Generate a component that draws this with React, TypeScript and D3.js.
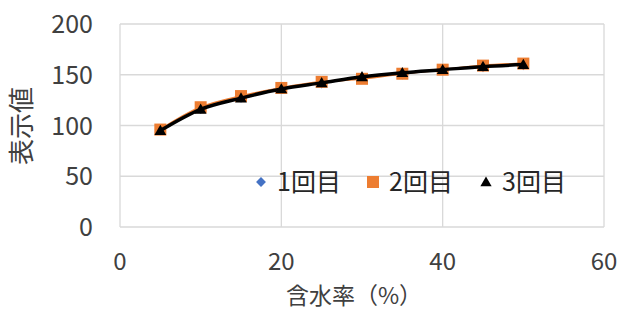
import React, { useEffect, useRef } from "react";
import * as d3 from "d3";

const moisture = [5, 10, 15, 20, 25, 30, 35, 40, 45, 50];
const run1 = [96, 117, 128, 137, 142, 147, 151, 155, 158, 160];
const run2 = [96, 118, 129, 137, 143, 146, 151, 155, 159, 161];
const run3 = [95, 116, 127, 136, 142, 148, 152, 155, 158, 160];
const xTicks = [0, 20, 40, 60];
const yTicks = [0, 50, 100, 150, 200];
const seriesNames = ["1回目", "2回目", "3回目"];

const FONT = "'Noto Sans CJK JP', 'Noto Sans', sans-serif";

function App() {
  const svgRef = useRef<SVGSVGElement>(null);

  useEffect(() => {
    const W = 623, H = 320;
    const m = { left: 120, right: 19, top: 24, bottom: 93 };

    const svg = d3.select(svgRef.current);
    svg.selectAll("*").remove();
    svg.attr("width", W).attr("height", H);

    const scX = d3.scaleLinear().domain([0, 60]).range([m.left, W - m.right]);
    const scY = d3.scaleLinear().domain([0, 200]).range([H - m.bottom, m.top]);

    // grid
    svg.append("g").selectAll("line").data(yTicks).enter().append("line")
      .attr("x1", scX(0)).attr("x2", scX(60))
      .attr("y1", d => scY(d)).attr("y2", d => scY(d))
      .attr("stroke", "#d9d9d9").attr("stroke-width", 1.3);
    svg.append("g").selectAll("line").data(xTicks).enter().append("line")
      .attr("y1", scY(0)).attr("y2", scY(200))
      .attr("x1", d => scX(d)).attr("x2", d => scX(d))
      .attr("stroke", "#d9d9d9").attr("stroke-width", 1.3);

    // tick labels
    svg.append("g").selectAll("text").data(yTicks).enter().append("text")
      .attr("x", scX(0) - 27).attr("y", d => scY(d))
      .attr("dy", "0.36em").attr("text-anchor", "end")
      .attr("font-family", FONT).attr("font-size", 25).attr("fill", "#404040")
      .text(d => d);
    svg.append("g").selectAll("text").data(xTicks).enter().append("text")
      .attr("x", d => scX(d)).attr("y", 270)
      .attr("text-anchor", "middle")
      .attr("font-family", FONT).attr("font-size", 24).attr("fill", "#404040")
      .text(d => d);

    // axis titles
    svg.append("text")
      .attr("x", 354).attr("y", 304).attr("text-anchor", "middle")
      .attr("font-family", FONT).attr("font-size", 23).attr("fill", "#404040")
      .text("含水率（%）");
    svg.append("text")
      .attr("transform", `translate(31,126) rotate(-90)`)
      .attr("text-anchor", "middle")
      .attr("font-family", FONT).attr("font-size", 26).attr("fill", "#404040")
      .text("表示値");

    const line = d3.line<number>()
      .x((_, i) => scX(moisture[i]))
      .y(d => scY(d))
      .curve(d3.curveCatmullRom);

    // series 1: blue diamonds
    svg.append("path").attr("d", line(run1)).attr("fill", "none")
      .attr("stroke", "#4472C4").attr("stroke-width", 1.5);
    svg.append("g").selectAll("rect").data(run1).enter().append("rect")
      .attr("x", -4).attr("y", -4).attr("width", 8).attr("height", 8)
      .attr("transform", (d, i) => `translate(${scX(moisture[i])},${scY(d)}) rotate(45)`)
      .attr("fill", "#4472C4");

    // series 2: orange squares
    svg.append("path").attr("d", line(run2)).attr("fill", "none")
      .attr("stroke", "#ED7D31").attr("stroke-width", 2);
    svg.append("g").selectAll("rect").data(run2).enter().append("rect")
      .attr("x", (d, i) => scX(moisture[i]) - 6).attr("y", d => scY(d) - 6)
      .attr("width", 12).attr("height", 12)
      .attr("fill", "#ED7D31");

    // series 3: black triangles
    svg.append("path").attr("d", line(run3)).attr("fill", "none")
      .attr("stroke", "#000").attr("stroke-width", 3.5);
    svg.append("g").selectAll("path").data(run3).enter().append("path")
      .attr("d", d3.symbol(d3.symbolTriangle, 60)())
      .attr("transform", (d, i) => `translate(${scX(moisture[i])},${scY(d) + 1})`)
      .attr("fill", "#000");

    // legend
    const legY = 182;
    const leg = svg.append("g");
    const legX = [261, 373, 486];
    leg.append("rect").attr("x", -3.5).attr("y", -3.5).attr("width", 7).attr("height", 7)
      .attr("transform", `translate(${legX[0]},${legY}) rotate(45)`).attr("fill", "#4472C4");
    leg.append("rect").attr("x", legX[1] - 6).attr("y", legY - 6)
      .attr("width", 12).attr("height", 12).attr("fill", "#ED7D31");
    leg.append("path").attr("d", d3.symbol(d3.symbolTriangle, 55)())
      .attr("transform", `translate(${legX[2]},${legY + 1})`).attr("fill", "#000");
    leg.selectAll("text").data(seriesNames).enter().append("text")
      .attr("x", (_, i) => legX[i] + 16).attr("y", legY).attr("dy", "0.36em")
      .attr("font-family", FONT).attr("font-size", 25).attr("fill", "#262626")
      .text(d => d);
  }, []);

  return <svg ref={svgRef} style={{ position: "absolute", left: 0, top: 0, background: "#fff" }}></svg>;
}

export default App;
